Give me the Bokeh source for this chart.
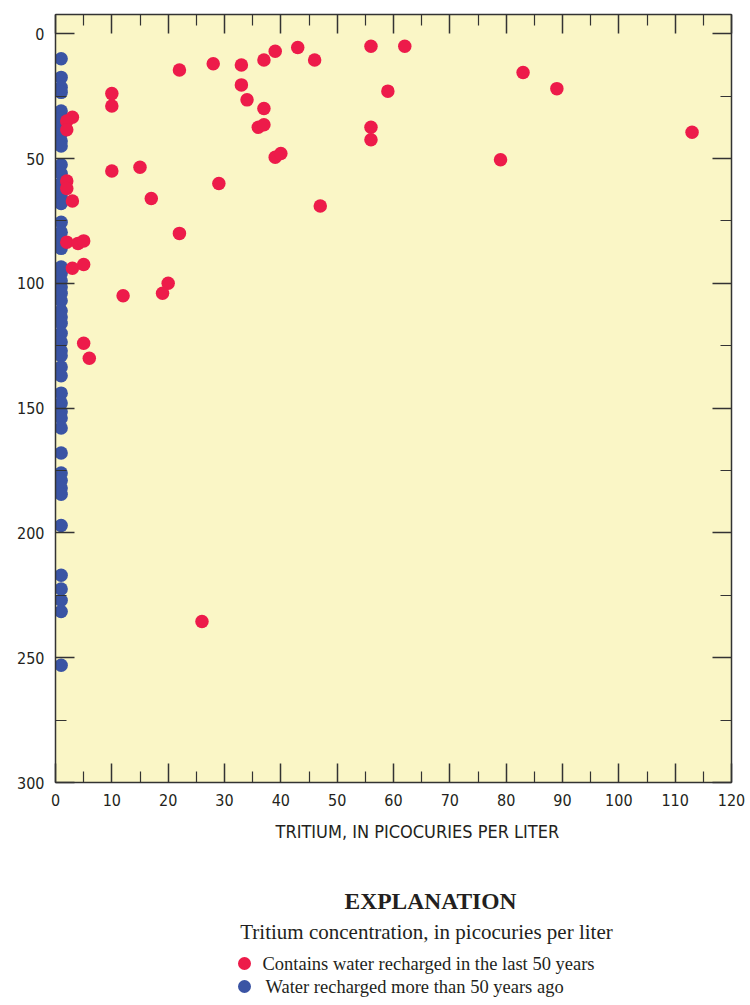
from bokeh.plotting import figure
from bokeh.models import Range1d, LinearAxis, FixedTicker, Title
from bokeh.layouts import column
from bokeh.embed import file_html
from bokeh.resources import INLINE
from bokeh.core.properties import value

# Blue: water recharged more than 50 years ago (tritium ~1 pCi/L)
blue_tritium = [1] * 51
blue_depth = [10, 17.5, 21.5, 23.5, 31, 34, 37.5, 40, 43, 45, 52.5, 56, 60, 63, 65.5, 68,
              75.5, 79.5, 83, 86, 93.5, 96, 99, 101.5, 104, 107, 111, 113.5, 116, 120,
              123.5, 127, 129, 133.5, 137, 144, 148, 151.5, 154, 158, 168, 176, 179, 182,
              184.5, 197, 217, 222.5, 227, 231.5, 253]

# Red: contains water recharged in the last 50 years
red_tritium = [22, 28, 33, 37, 39, 43, 46, 56, 62, 33, 34, 37, 36, 37, 56, 56, 39, 40, 59,
               29, 47, 22, 83, 89, 113, 79, 10, 10, 3, 2, 2, 10, 15, 2, 2, 3, 17, 2, 4, 5,
               3, 5, 20, 19, 12, 5, 6, 26]
red_depth = [14.5, 12, 12.5, 10.5, 7, 5.5, 10.5, 5, 5, 20.5, 26.5, 30, 37.5, 36.5, 37.5,
             42.5, 49.5, 48, 23, 60, 69, 80, 15.5, 22, 39.5, 50.5, 24, 29, 33.5, 35, 38.5,
             55, 53.5, 59, 62, 67, 66, 83.5, 84, 83, 94, 92.5, 100, 104, 105, 124, 130,
             235.5]

x_major = list(range(0, 121, 10))
x_minor = list(range(5, 120, 10))
y_major = list(range(0, 301, 50))
y_minor = list(range(25, 300, 50))

x_label = "TRITIUM, IN PICOCURIES PER LITER"
legend_title = "EXPLANATION"
legend_subtitle = "Tritium concentration, in picocuries per liter"
legend_red = "Contains water recharged in the last 50 years"
legend_blue = "Water recharged more than 50 years ago"

RED = "#ED1B4A"
BLUE = "#3A54A4"
BG = "#FAF6C6"
AX = "#333333"
TICK_FONT = "DejaVu Sans Condensed"

p = figure(width=750, height=858, output_backend="svg", toolbar_location=None,
           x_range=Range1d(0, 120), y_range=Range1d(300, -7.7),
           x_axis_location=None, y_axis_location=None,
           min_border_left=55, min_border_right=19, min_border_top=14, min_border_bottom=76)
p.background_fill_color = BG
p.border_fill_color = "white"
p.outline_line_color = AX
p.xgrid.grid_line_color = None
p.ygrid.grid_line_color = None

xt = FixedTicker(ticks=x_major, minor_ticks=x_minor)
yt = FixedTicker(ticks=y_major, minor_ticks=y_minor)


def style_axis(ax, ticks, show_labels):
    ax.major_tick_in = 19
    ax.major_tick_out = 0
    ax.minor_tick_in = 11
    ax.minor_tick_out = 0
    ax.axis_line_color = AX
    ax.major_tick_line_color = AX
    ax.minor_tick_line_color = AX
    ax.axis_line_width = 1.5
    ax.major_tick_line_width = 1.5
    ax.minor_tick_line_width = 1.2
    if show_labels:
        ax.major_label_text_font = TICK_FONT
        ax.major_label_text_font_size = "16px"
        ax.major_label_text_color = "#231F20"
        ax.major_label_standoff = 11
    else:
        ax.major_label_overrides = {t: "" for t in ticks}
        ax.major_label_standoff = 0


bottom = LinearAxis(ticker=xt)
style_axis(bottom, x_major, True)
p.add_layout(bottom, "below")

# x-axis title, placed slightly right of centre as in the reference
xtitle = Title(text=x_label, align="left", offset=220, text_font=TICK_FONT,
               text_font_size="18px", text_font_style="normal", text_color="#231F20",
               standoff=20)
p.add_layout(xtitle, "below")

left = LinearAxis(ticker=yt)
style_axis(left, y_major, True)
p.add_layout(left, "left")

top = LinearAxis(ticker=xt)
style_axis(top, x_major, False)
p.add_layout(top, "above")

right = LinearAxis(ticker=yt)
style_axis(right, y_major, False)
p.add_layout(right, "right")

p.scatter(blue_tritium, blue_depth, size=13.5, fill_color=BLUE, line_color=None)
p.scatter(red_tritium, red_depth, size=13.5, fill_color=RED, line_color=None)

# Explanation panel (frame aligned with the chart frame: page x 55..731)
leg = figure(width=750, height=140, output_backend="svg", toolbar_location=None,
             x_range=Range1d(55, 731), y_range=Range1d(140, 0),
             x_axis_location=None, y_axis_location=None,
             min_border_left=55, min_border_right=19, min_border_top=0, min_border_bottom=0)
leg.outline_line_color = None
leg.xgrid.grid_line_color = None
leg.ygrid.grid_line_color = None
leg.background_fill_color = "white"
leg.border_fill_color = "white"

SERIF = "Liberation Serif"
leg.text(x=[430], y=[42], text=[legend_title], text_font=value(SERIF),
         text_font_size="23.5px", text_font_style="bold", text_align="center",
         text_baseline="middle", text_color="#231F20")
leg.text(x=[426], y=[73], text=[legend_subtitle], text_font=value(SERIF),
         text_font_size="21px", text_align="center", text_baseline="middle",
         text_color="#231F20")
leg.scatter(x=[244, 244], y=[105, 128], size=13, fill_color=[RED, BLUE], line_color=None)
leg.text(x=[262, 265], y=[105, 128], text=[legend_red, legend_blue], text_font=value(SERIF),
         text_font_size="18.5px", text_align="left", text_baseline="middle",
         text_color="#231F20")

layout = column(p, leg, spacing=0)
open("out.html", "w").write(file_html(layout, INLINE))
